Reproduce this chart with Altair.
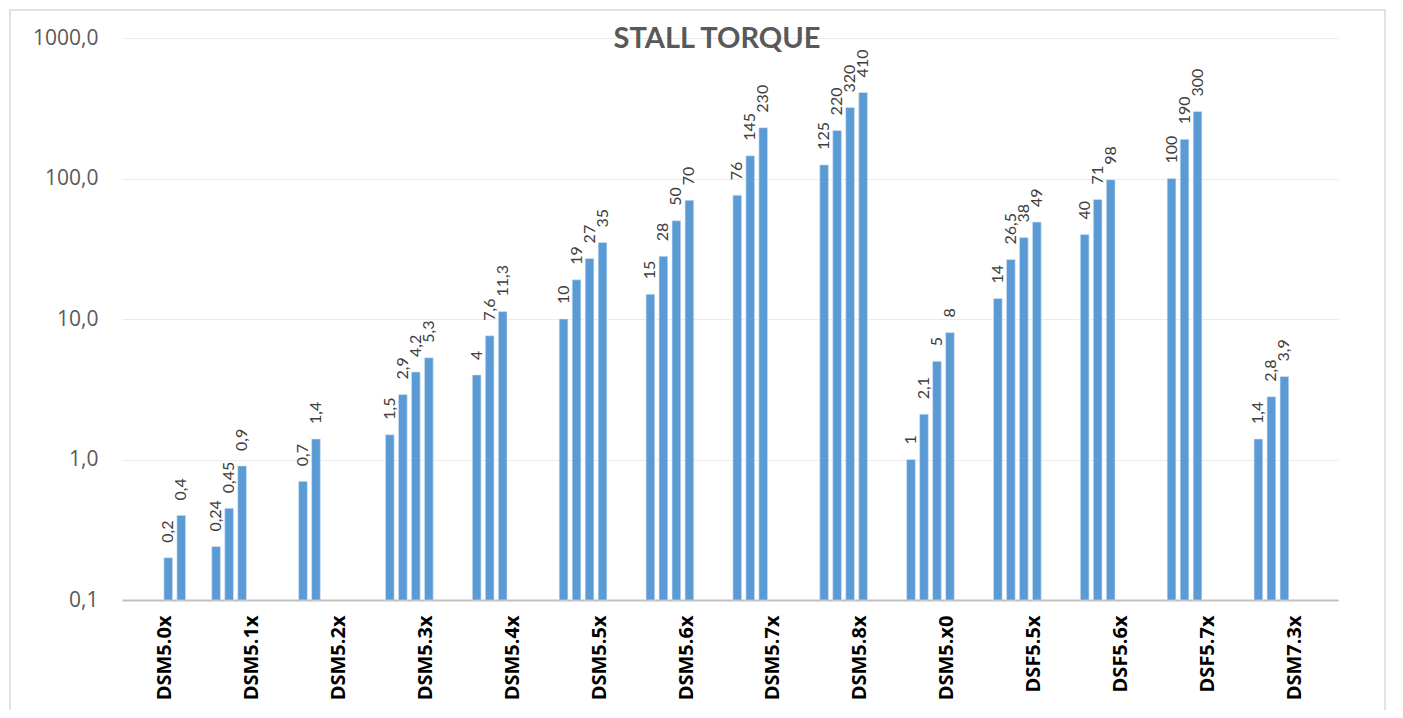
import altair as alt
import pandas as pd

categories = ["DSM5.0x", "DSM5.1x", "DSM5.2x", "DSM5.3x", "DSM5.4x", "DSM5.5x", "DSM5.6x",
              "DSM5.7x", "DSM5.8x", "DSM5.x0", "DSF5.5x", "DSF5.6x", "DSF5.7x", "DSM7.3x"]

slot0 = [None, 0.24, 0.7, 1.5, 4, 10, 15, 76, 125, 1, 14, 40, 100, 1.4]
slot1 = [None, 0.45, 1.4, 2.9, 7.6, 19, 28, 145, 220, 2.1, 26.5, 71, 190, 2.8]
slot2 = [None, 0.9, None, 4.2, 11.3, 27, 50, 230, 320, 5, 38, 98, 300, 3.9]
slot3 = [0.2, None, None, 5.3, None, 35, 70, None, 410, 8, 49, None, None, None]
slot4 = [0.4, None, None, None, None, None, None, None, None, None, None, None, None, None]

y_ticks = [0.1, 1, 10, 100, 1000]
title_text = "STALL TORQUE"

series = [slot0, slot1, slot2, slot3, slot4]
rows = []
for s_idx, s in enumerate(series):
    for cat, v in zip(categories, s):
        if v is not None:
            rows.append({"category": cat, "slot": s_idx, "value": v,
                         "label": f"{v:g}".replace(".", ",")})
df = pd.DataFrame(rows)

x_enc = alt.X("category:N", sort=categories,
              scale=alt.Scale(paddingInner=0, paddingOuter=0),
              axis=alt.Axis(title=None, labelAngle=270, ticks=False, labelPadding=15,
                            domainColor="#bfbfbf", domainWidth=2,
                            labelFont="Open Sans", labelFontWeight="bold",
                            labelFontSize=20, labelColor="#000000", grid=False))
xo_enc = alt.XOffset("slot:O",
                     scale=alt.Scale(domain=[0, 1, 2, 3, 4, 5, 6], range=[2.9, 89.6],
                                     paddingInner=0.33, paddingOuter=0))
y_enc = alt.Y("value:Q",
              scale=alt.Scale(type="log", domain=[0.1, 1000]),
              axis=alt.Axis(title=None, values=y_ticks, domain=False, ticks=False,
                            labelExpr="replace(format(datum.value, '.1f'), '.', ',')",
                            labelPadding=24, labelFont="Open Sans", labelFontSize=21,
                            labelColor="#595959", gridColor="#ebebeb", gridWidth=1))

base = alt.Chart(df)

bars = base.mark_bar(color="#5b9bd5", stroke="#d6e6f5", strokeWidth=0.6).encode(
    x=x_enc, xOffset=xo_enc, y=y_enc, y2=alt.datum(0.1)
)

labels = base.mark_text(angle=270, align="left", baseline="middle", dx=15,
                        font="Lato", fontSize=16, color="#404040").encode(
    x=x_enc, xOffset=xo_enc, y=y_enc, text="label:N"
)

title = alt.Chart(pd.DataFrame({"t": [title_text]})).mark_text(
    font="Lato", fontWeight="bold", fontSize=29, color="#595959",
    baseline="middle", align="center"
).encode(text="t:N", x=alt.value(595), y=alt.value(1))

border = alt.Chart(pd.DataFrame({"a": [0]})).mark_rect(
    fill="transparent", stroke="#d9d9d9", strokeWidth=1.5, clip=False
).encode(x=alt.value(-112), x2=alt.value(1263), y=alt.value(-28), y2=alt.value(720))

chart = alt.layer(border, bars, labels, title).properties(
    width=1216, height=562,
    padding={"left": 114, "top": 30, "right": 57, "bottom": 110},
    autosize=alt.AutoSizeParams(type="none"),
    background="white",
).configure_view(strokeWidth=0)

chart.save("out.html", embed_options={"renderer": "svg", "actions": False})
